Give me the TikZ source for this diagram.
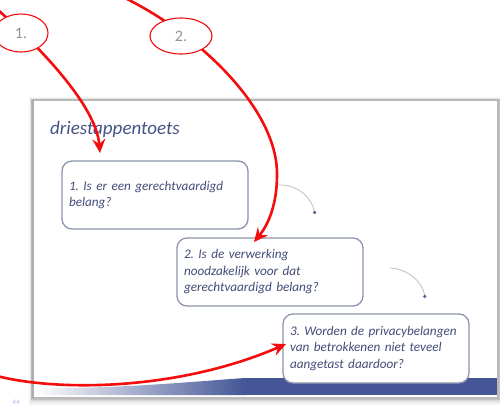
\documentclass[tikz,border=0pt]{standalone}
\usepackage{fontspec}
\setmainfont{Carlito}
\usetikzlibrary{arrows.meta,shapes.geometric}
\definecolor{redline}{RGB}{245,12,12}
\definecolor{boxedge}{RGB}{140,148,175}
\definecolor{txt}{RGB}{68,76,120}
\definecolor{titleblue}{RGB}{70,84,132}
\definecolor{barblue}{RGB}{68,86,150}
\definecolor{dotc}{RGB}{90,100,145}
\definecolor{pagec}{RGB}{160,185,230}
\begin{document}
\frenchspacing
\begin{tikzpicture}[x=1pt,y=-1pt,
  stepbox/.style={draw=boxedge, line width=1.3pt, rounded corners=10pt, fill=white,
    minimum width=186pt, minimum height=68pt, text width=172pt, align=left,
    inner xsep=7pt, font=\fontsize{13.2}{16.5}\selectfont\itshape, text=txt},
  redarrow/.style={draw=redline, line width=2.6pt, -{Stealth[length=14pt,width=13pt,inset=5pt]}},
  numell/.style={ellipse, draw=redline, line width=1.1pt, fill=white, inner sep=0pt,
    text=gray!85, font=\fontsize{16}{16}\selectfont},
  grayarrow/.style={draw=gray!45, line width=0.9pt, -{Circle[length=3.2pt,color=dotc]}}]
\useasboundingbox (0,0) rectangle (500,416);
\fill[white] (0,0) rectangle (500,416);
% slide shadow
\foreach \o/\op in {7/0.04,5/0.05,3/0.07,1.5/0.09}
  \fill[black,opacity=\op] ({32-\o*0.4},{100-\o*0.4}) rectangle ({498+\o},{398+\o});
% slide
\draw[gray!55, line width=1.2pt, fill=white] (32,100) rectangle (498,398);
\draw[gray!65, line width=2pt] (33,100) -- (33,398);
% bottom bar
\shade[left color=white, middle color=barblue!22, right color=barblue]
  (34,395) -- (34,388) .. controls (120,389) and (200,381) .. (245,378) -- (245,395) -- cycle;
\fill[barblue] (245,378) rectangle (497,395);
% title
\node[anchor=base west, inner sep=0pt, font=\fontsize{19}{19}\selectfont\itshape, text=titleblue]
  (title) at (50,134) {driestappentoets};
% boxes
\node[stepbox] (b1) at (155,195) {\mbox{1. Is er een gerechtvaardigd}\\belang?};
\node[stepbox] (b2) at (270,272) {\mbox{2. Is de verwerking}\\\mbox{noodzakelijk voor dat}\\\mbox{gerechtvaardigd belang?}};
\node[stepbox, minimum height=69pt] (b3) at (376,348.5) {\mbox{3. Worden de privacybelangen}\\\mbox{van betrokkenen niet teveel}\\\mbox{aangetast daardoor?}};
% small gray arrows
\coordinate (g1s) at (278,185);
\coordinate (g1e) at (315,214);
\coordinate (g2s) at (390,268);
\coordinate (g2e) at (425,298);
\draw[grayarrow] (g1s) .. controls (300,184) and (312,200) .. (g1e);
\draw[grayarrow] (g2s) .. controls (410,269) and (423,284) .. (g2e);
% page number
\node[font=\fontsize{7}{7}\selectfont\itshape, text=pagec, inner sep=0pt] (pg) at (16,402) {44};
% red curves
\coordinate (s1) at (-3,9);
\coordinate (t1) at (100,153);
\coordinate (s2) at (125,-2);
\coordinate (m2) at (277,175);
\coordinate (t2) at (254,242);
\coordinate (s3) at (-3,376);
\coordinate (t3) at (286,344);
\draw[redarrow] (s1) .. controls (36,44) and (96,104) .. (t1);
\draw[redarrow] (s2) .. controls (200,35) and (278,110) .. (m2) .. controls (277,205) and (268,225) .. (t2);
\draw[redarrow] (s3) .. controls (60,392) and (180,390) .. (t3);
% number ellipses
\node[numell, minimum width=54pt, minimum height=38pt] (e1) at (21,33) {1.};
\node[numell, minimum width=62pt, minimum height=36pt] (e2) at (181,36) {2.};
\end{tikzpicture}
\end{document}
